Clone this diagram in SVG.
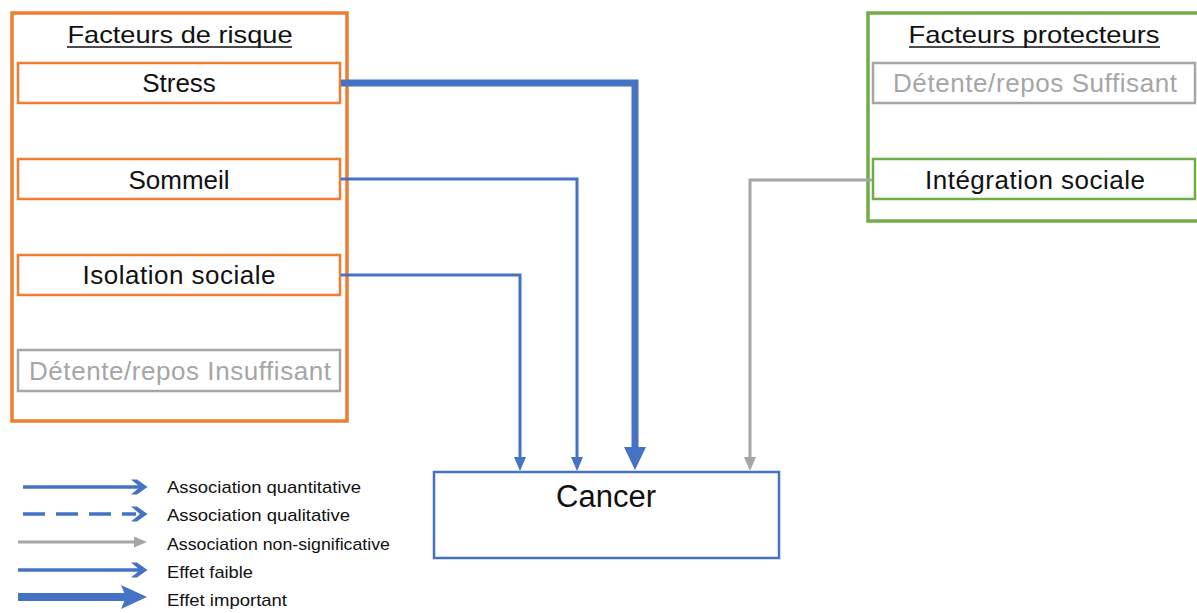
<svg xmlns="http://www.w3.org/2000/svg" width="1197" height="613" viewBox="0 0 1197 613">
<style>
text{font-family:"Liberation Sans",Arial,sans-serif;fill:#111}
.t{font-size:24px;text-anchor:middle}
.ul{stroke:#111;stroke-width:1.6}
.n{font-size:26px;text-anchor:middle}
.g{fill:#a6a6a6}
.lg{font-size:17px}
.or{fill:#fff;stroke:#ed7d31;stroke-width:2.5}
.gr{fill:#fff;stroke:#a6a6a6;stroke-width:2.5}
.gn{fill:#fff;stroke:#70ad47;stroke-width:2.5}
.b{fill:none;stroke:#4472c4}
.bf{fill:#4472c4}
.gf{fill:#a6a6a6}
</style>
<rect width="1197" height="613" fill="#fff"/>
<g id="risque">
<rect x="12" y="13" width="335" height="408" fill="#fff" stroke="#ed7d31" stroke-width="3.5"/>
<text class="t" x="180" y="43" textLength="225" lengthAdjust="spacingAndGlyphs">Facteurs de risque</text>
<line class="ul" x1="67" y1="47" x2="292" y2="47"/>
</g>
<g id="stress"><rect class="or" x="18" y="63" width="322" height="40"/><text class="n" x="179" y="92">Stress</text></g>
<g id="sommeil"><rect class="or" x="18" y="159" width="322" height="40"/><text class="n" x="179" y="189">Sommeil</text></g>
<g id="isolation"><rect class="or" x="18" y="255" width="322" height="40"/><text class="n" x="179" y="284" textLength="193" lengthAdjust="spacing">Isolation sociale</text></g>
<g id="detente-insuffisant"><rect class="gr" x="18" y="350" width="322" height="41"/><text class="n g" x="180" y="380" textLength="302" lengthAdjust="spacing">Détente/repos Insuffisant</text></g>
<g id="protecteurs">
<rect x="868" y="13" width="340" height="208" fill="#fff" stroke="#70ad47" stroke-width="3.5"/>
<text class="t" x="1034" y="43" textLength="251" lengthAdjust="spacingAndGlyphs">Facteurs protecteurs</text>
<line class="ul" x1="909" y1="47" x2="1160" y2="47"/>
</g>
<g id="detente-suffisant"><rect class="gr" x="873" y="63" width="322" height="40"/><text class="n g" x="1035" y="92" textLength="284" lengthAdjust="spacing">Détente/repos Suffisant</text></g>
<g id="integration"><rect class="gn" x="873" y="159" width="322" height="40"/><text class="n" x="1035" y="189" textLength="220" lengthAdjust="spacing">Intégration sociale</text></g>
<g id="cancer"><rect x="434" y="472" width="345" height="86" fill="#fff" stroke="#4472c4" stroke-width="2.5"/><text x="606" y="507" font-size="31" text-anchor="middle">Cancer</text></g>
<g id="connectors">
<path class="b" d="M341 83H635V449" stroke-width="7"/>
<polygon class="bf" points="624,447 646,447 635,470"/>
<path class="b" d="M341 179H577V459" stroke-width="3"/>
<polygon class="bf" points="571,457 583,457 577,471"/>
<path class="b" d="M341 275H520V459" stroke-width="3"/>
<polygon class="bf" points="514,457 526,457 520,471"/>
<path d="M872 180H750V459" fill="none" stroke="#a6a6a6" stroke-width="3"/>
<polygon class="gf" points="744,457 756,457 750,471"/>
</g>
<g id="legend">
<path class="b" d="M23 487H140" stroke-width="3.5"/>
<path d="M131,479.5 L137,479.5 L147.5,487 L137,494.5 L131,494.5 L140,487Z" class="bf"/>
<text class="lg" x="167" y="493" textLength="194" lengthAdjust="spacingAndGlyphs">Association quantitative</text>
<path class="b" d="M23 514H136" stroke-width="3.5" stroke-dasharray="22,11"/>
<path d="M131,506.5 L137,506.5 L147.5,514 L137,521.5 L131,521.5 L140,514Z" class="bf"/>
<text class="lg" x="167" y="521" textLength="183" lengthAdjust="spacingAndGlyphs">Association qualitative</text>
<path d="M18 542H138" fill="none" stroke="#a6a6a6" stroke-width="3"/>
<polygon class="gf" points="134,536.5 147,542 134,547.5"/>
<text class="lg" x="167" y="550" textLength="223" lengthAdjust="spacingAndGlyphs">Association non-significative</text>
<path class="b" d="M18 570H140" stroke-width="3.5"/>
<path d="M131,562.5 L137,562.5 L147.5,570 L137,577.5 L131,577.5 L140,570Z" class="bf"/>
<text class="lg" x="167" y="578" textLength="86" lengthAdjust="spacingAndGlyphs">Effet faible</text>
<path class="b" d="M18 597H128" stroke-width="8"/>
<path d="M121,585 L147,597 L121,609 L126,597Z" class="bf"/>
<text class="lg" x="167" y="606" textLength="120" lengthAdjust="spacingAndGlyphs">Effet important</text>
</g>
</svg>
